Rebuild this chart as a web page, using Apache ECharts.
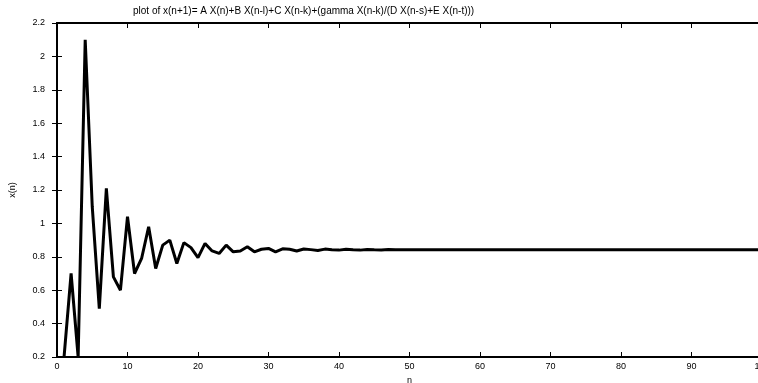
<!DOCTYPE html>
<html>
<head>
<meta charset="utf-8">
<script src="https://cdn.jsdelivr.net/npm/echarts@6/dist/echarts.min.js"></script>
<style>html,body{margin:0;padding:0;background:#fff}#c{width:758px;height:383px}</style>
</head>
<body>
<div id="c"></div>
<script>
const titleText = 'plot of x(n+1)= A X(n)+B X(n-l)+C X(n-k)+(gamma X(n-k)/(D X(n-s)+E X(n-t)))';
const xName = 'n';
const yName = 'x(n)';
const nStart = 1;
const xValues = [
  0.2, 0.70, 0.2, 2.10, 1.10, 0.49, 1.21, 0.68, 0.60, 1.04,
  0.70, 0.79, 0.98, 0.73, 0.87, 0.90, 0.76, 0.885, 0.855, 0.795,
  0.88, 0.835, 0.82, 0.87, 0.83, 0.835, 0.86, 0.83, 0.845, 0.85,
  0.83, 0.848, 0.845, 0.835, 0.847, 0.843, 0.838, 0.846, 0.842, 0.840,
  0.845, 0.842, 0.840, 0.844, 0.842, 0.841, 0.843, 0.842, 0.842, 0.842,
  0.842, 0.842, 0.842, 0.842, 0.842, 0.842, 0.842, 0.842, 0.842, 0.842,
  0.842, 0.842, 0.842, 0.842, 0.842, 0.842, 0.842, 0.842, 0.842, 0.842,
  0.842, 0.842, 0.842, 0.842, 0.842, 0.842, 0.842, 0.842, 0.842, 0.842,
  0.842, 0.842, 0.842, 0.842, 0.842, 0.842, 0.842, 0.842, 0.842, 0.842,
  0.842, 0.842, 0.842, 0.842, 0.842, 0.842, 0.842, 0.842, 0.842, 0.842
];
const points = xValues.map((v, i) => [nStart + i, v]);

const font = 'Liberation Sans, Arial, sans-serif';
const tickStyle = { show: true, inside: true, length: 5, lineStyle: { color: '#000', width: 1 } };
const lineAx = { show: true, lineStyle: { color: '#000', width: 2 } };

const chart = echarts.init(document.getElementById('c'), null, { renderer: 'canvas' });
chart.setOption({
  animation: false,
  backgroundColor: '#fff',
  title: {
    text: titleText, left: 128, top: 1,
    textStyle: { fontFamily: font, fontSize: 10, fontWeight: 'normal', color: '#000' }
  },
  grid: { left: 57, top: 23, right: -4, bottom: 26, show: false, containLabel: false, outerBoundsMode: 'none' },
  xAxis: [
    {
      type: 'value', min: 0, max: 100, interval: 10, position: 'bottom',
      name: xName, nameLocation: 'middle', nameGap: 19,
      nameTextStyle: { fontFamily: font, fontSize: 9, color: '#000' },
      axisLine: lineAx, axisTick: tickStyle,
      axisLabel: { fontFamily: font, fontSize: 9, color: '#000', margin: 5 },
      splitLine: { show: false }
    },
    {
      type: 'value', min: 0, max: 100, interval: 10, position: 'top',
      axisLine: lineAx, axisTick: tickStyle, axisLabel: { show: false }, splitLine: { show: false }
    }
  ],
  yAxis: [
    {
      type: 'value', min: 0.2, max: 2.2, interval: 0.2, position: 'left',
      name: yName, nameLocation: 'middle', nameGap: 40, nameRotate: 90,
      nameTextStyle: { fontFamily: font, fontSize: 9, color: '#000' },
      axisLine: lineAx, axisTick: tickStyle,
      axisLabel: { fontFamily: font, fontSize: 9, color: '#000', margin: 12 },
      splitLine: { show: false }
    },
    {
      type: 'value', min: 0.2, max: 2.2, interval: 0.2, position: 'right',
      axisLine: lineAx, axisTick: tickStyle, axisLabel: { show: false }, splitLine: { show: false }
    }
  ],
  series: [{
    type: 'line', data: points, showSymbol: false, symbol: 'none', clip: true,
    lineStyle: { color: '#000', width: 3 }, xAxisIndex: 0, yAxisIndex: 0
  }]
});
</script>
</body>
</html>
